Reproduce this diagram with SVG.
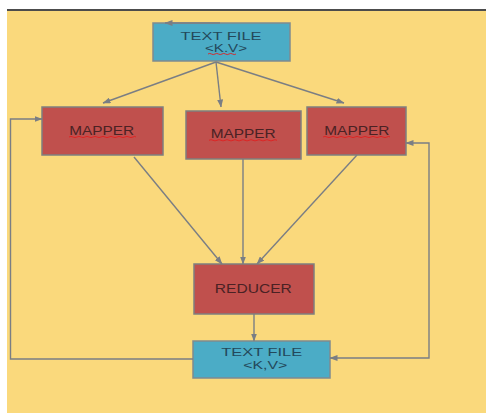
<svg xmlns="http://www.w3.org/2000/svg" width="486" height="414" viewBox="0 0 486 414">
<style>
.bg{fill:#fad97c}
.blue{fill:#4bacc6;stroke:#7f8a8f;stroke-width:1.5}
.red{fill:#c0504d;stroke:#7f7f7f;stroke-width:1.5}
.tb{font-family:"Liberation Sans",Arial,sans-serif;font-size:11px;fill:#23485a;text-anchor:middle}
.tr{font-family:"Liberation Sans",Arial,sans-serif;font-size:13px;fill:#4a2224;text-anchor:middle}
.c{fill:none;stroke:#7a7e84;stroke-width:1.4}
.sq{fill:none;stroke:#e02020;stroke-width:0.9}
</style>
<defs>
<marker id="ah" markerWidth="8" markerHeight="6" refX="7.5" refY="3" orient="auto" markerUnits="userSpaceOnUse">
<path d="M0,0 L8,3 L0,6 Z" fill="#7a7e84"/>
</marker>
<marker id="as" markerWidth="8" markerHeight="6" refX="0.5" refY="3" orient="auto" markerUnits="userSpaceOnUse">
<path d="M8,0 L0,3 L8,6 Z" fill="#7a7e84"/>
</marker>
</defs>
<rect x="0" y="0" width="486" height="414" fill="#ffffff"/>
<rect class="bg" x="7" y="11" width="479" height="402"/>
<line x1="7" y1="10" x2="486" y2="10" stroke="#111" stroke-width="1.6"/>

<g id="textfile-top">
<rect class="blue" x="153" y="23" width="137" height="38"/>
<text class="tb" x="221" y="39.5" textLength="81" lengthAdjust="spacingAndGlyphs">TEXT FILE</text>
<text class="tb" x="226" y="52.3" textLength="42" lengthAdjust="spacingAndGlyphs">&lt;K.V&gt;</text>
<path class="sq" d="M208,54 q1.75,-1.2 3.5,0 t3.5,0 t3.5,0 t3.5,0 t3.5,0 t3.5,0 t3.5,0 t3.5,0"/>
</g>

<g id="mapper1">
<rect class="red" x="42" y="107" width="121" height="48"/>
<text class="tr" x="101.7" y="135" textLength="65" lengthAdjust="spacingAndGlyphs">MAPPER</text>
<path class="sq" d="M69,137 q2,-1.2 4,0 t4,0 t4,0 t4,0 t4,0 t4,0 t4,0 t4,0 t4,0 t4,0 t4,0 t4,0 t4,0 t4,0 t4,0 t4,0 t3,0"/>
</g>

<g id="mapper2">
<rect class="red" x="186" y="111" width="115" height="48"/>
<text class="tr" x="243.2" y="138.3" textLength="65" lengthAdjust="spacingAndGlyphs">MAPPER</text>
<path class="sq" d="M209,140.3 q2,-1.2 4,0 t4,0 t4,0 t4,0 t4,0 t4,0 t4,0 t4,0 t4,0 t4,0 t4,0 t4,0 t4,0 t4,0 t4,0 t4,0 t4,0"/>
</g>

<g id="mapper3">
<rect class="red" x="307" y="107" width="99" height="48"/>
<text class="tr" x="356.8" y="135" textLength="65" lengthAdjust="spacingAndGlyphs">MAPPER</text>
<path class="sq" d="M323,137 q2,-1.2 4,0 t4,0 t4,0 t4,0 t4,0 t4,0 t4,0 t4,0 t4,0 t4,0 t4,0 t4,0 t4,0 t4,0 t4,0 t4,0 t3,0"/>
</g>

<g id="reducer">
<rect class="red" x="194" y="264" width="120" height="50"/>
<text class="tr" x="253.3" y="293.3" textLength="77" lengthAdjust="spacingAndGlyphs">REDUCER</text>
</g>

<g id="textfile-bottom">
<rect class="blue" x="193" y="341" width="137" height="37"/>
<text class="tb" x="261.7" y="356.3" textLength="81" lengthAdjust="spacingAndGlyphs">TEXT FILE</text>
<text class="tb" x="265.3" y="369" textLength="44" lengthAdjust="spacingAndGlyphs">&lt;K,V&gt;</text>
</g>

<g id="connectors">
<line class="c" x1="220" y1="23" x2="165" y2="23" marker-end="url(#ah)"/>
<line class="c" x1="216" y1="62" x2="103" y2="103" marker-end="url(#ah)"/>
<line class="c" x1="216" y1="62" x2="221" y2="107" marker-end="url(#ah)"/>
<line class="c" x1="216" y1="62" x2="344" y2="103" marker-end="url(#ah)"/>
<line class="c" x1="134" y1="157" x2="222" y2="264" marker-end="url(#ah)"/>
<line class="c" x1="243" y1="159" x2="243" y2="264" marker-end="url(#ah)"/>
<line class="c" x1="357" y1="155" x2="257" y2="264" marker-end="url(#ah)"/>
<line class="c" x1="254" y1="314" x2="254" y2="341" marker-end="url(#ah)"/>
<polyline class="c" points="193,359 10.5,359 10.5,119 42,119" marker-end="url(#ah)"/>
<polyline class="c" points="406,143 429,143 429,358 330,358" marker-start="url(#as)" marker-end="url(#ah)"/>
</g>
</svg>
